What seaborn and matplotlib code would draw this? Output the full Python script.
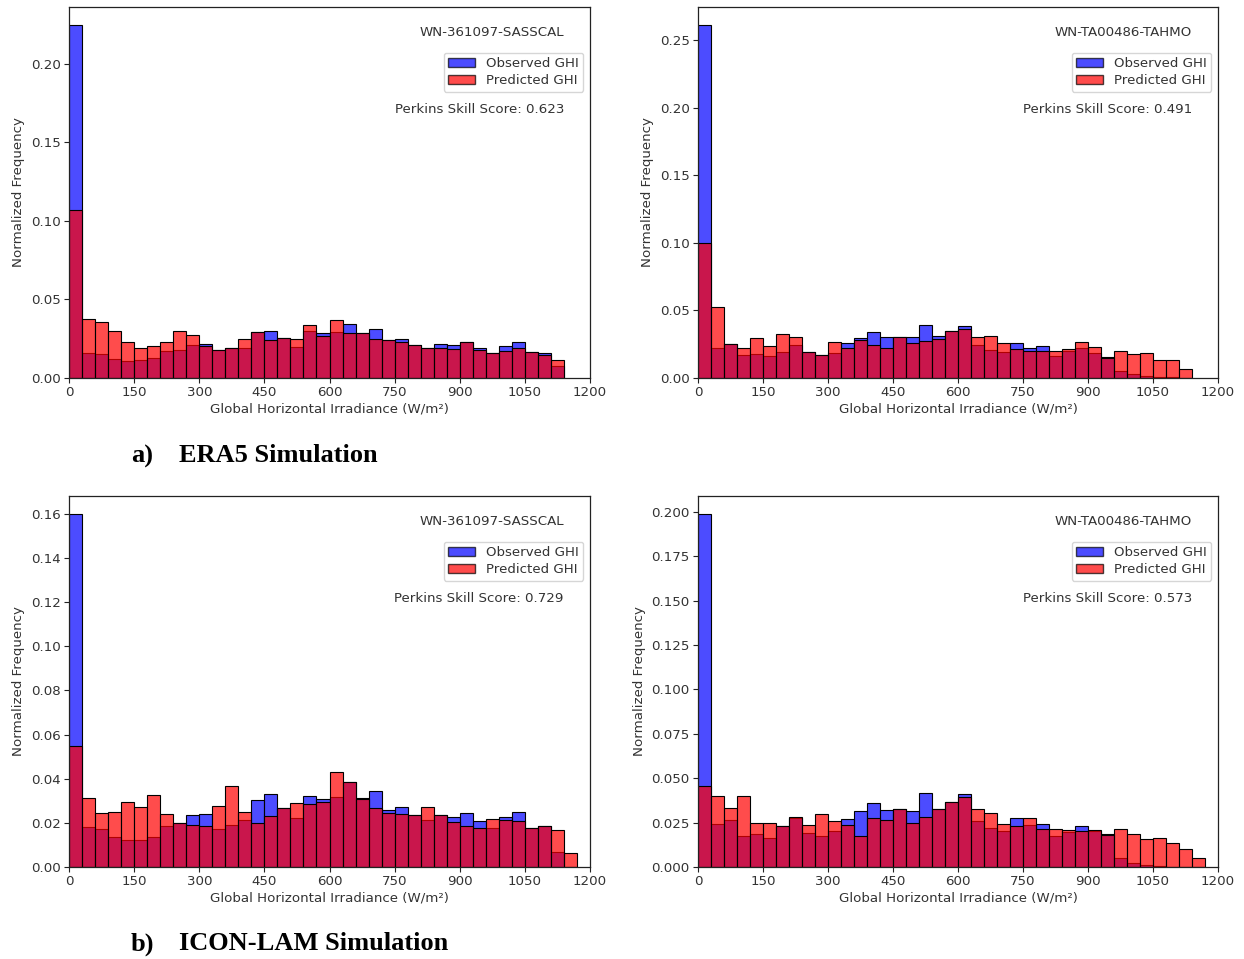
import numpy as np
import pandas as pd
import matplotlib
matplotlib.use("Agg")
import matplotlib.pyplot as plt
from matplotlib.patches import Patch
import seaborn as sns

# Histogram bin width of irradiance (W/m²)
bin_width = 30

# ERA5 – WN-361097-SASSCAL (normalized frequency per bin)
era5_sasscal_obs = [0.225, 0.016, 0.0153, 0.0119, 0.0106, 0.0114, 0.0127, 0.017, 0.018, 0.0208,
                    0.0216, 0.0178, 0.019, 0.019, 0.0295, 0.030, 0.0256, 0.0197, 0.0297, 0.0284,
                    0.0290, 0.0343, 0.0286, 0.0312, 0.0244, 0.025, 0.0212, 0.0192, 0.0218, 0.0208,
                    0.0228, 0.019, 0.0159, 0.0206, 0.0227, 0.0164, 0.0157, 0.0074]
era5_sasscal_pred = [0.107, 0.0375, 0.0356, 0.0297, 0.0227, 0.0191, 0.0206, 0.0231, 0.0297, 0.0273,
                     0.0206, 0.018, 0.019, 0.0248, 0.0295, 0.0244, 0.0256, 0.025, 0.034, 0.0265,
                     0.0367, 0.0286, 0.0286, 0.025, 0.0244, 0.0229, 0.0212, 0.019, 0.019, 0.0187,
                     0.0230, 0.0178, 0.0159, 0.017, 0.019, 0.0163, 0.0144, 0.0112]

# ERA5 – WN-TA00486-TAHMO
era5_tahmo_obs = [0.2615, 0.0224, 0.0249, 0.0168, 0.018, 0.0163, 0.0193, 0.0244, 0.019, 0.0173,
                  0.0188, 0.0256, 0.0298, 0.0337, 0.0305, 0.0307, 0.030, 0.039, 0.031, 0.0351,
                  0.0382, 0.0245, 0.021, 0.0195, 0.0257, 0.0222, 0.0235, 0.0165, 0.0198, 0.0222,
                  0.0183, 0.0158, 0.0054, 0.003, 0.0017, 0.001, 0.0005, 0.0]
era5_tahmo_pred = [0.0998, 0.0527, 0.0249, 0.0224, 0.0295, 0.0234, 0.0329, 0.030, 0.019, 0.0173,
                   0.0266, 0.0222, 0.0283, 0.0244, 0.0224, 0.0307, 0.0256, 0.0273, 0.029, 0.0351,
                   0.0364, 0.0301, 0.0309, 0.0257, 0.0215, 0.0203, 0.0203, 0.0203, 0.0215, 0.0269,
                   0.0232, 0.0146, 0.0203, 0.0175, 0.0183, 0.0136, 0.0133, 0.0067]

# ICON-LAM – WN-361097-SASSCAL
icon_sasscal_obs = [0.160, 0.0181, 0.0173, 0.0135, 0.0123, 0.0123, 0.0138, 0.0187, 0.0200, 0.0237,
                    0.0242, 0.0172, 0.0192, 0.0211, 0.0302, 0.0331, 0.0266, 0.022, 0.0321, 0.031,
                    0.0318, 0.0385, 0.0313, 0.0344, 0.0257, 0.0272, 0.0237, 0.0211, 0.0234, 0.0226,
                    0.0245, 0.0207, 0.0176, 0.0225, 0.0248, 0.0176, 0.0184, 0.007, 0.0]
icon_sasscal_pred = [0.055, 0.0313, 0.0243, 0.0249, 0.0296, 0.0272, 0.0325, 0.0239, 0.0198, 0.0192,
                     0.0187, 0.0275, 0.0369, 0.0249, 0.0199, 0.0230, 0.0266, 0.029, 0.0287, 0.0295,
                     0.043, 0.0385, 0.0306, 0.0268, 0.0245, 0.0242, 0.0237, 0.0272, 0.0234, 0.0202,
                     0.0184, 0.0176, 0.0219, 0.0214, 0.0207, 0.0176, 0.0184, 0.0169, 0.0062]

# ICON-LAM – WN-TA00486-TAHMO
icon_tahmo_obs = [0.199, 0.0244, 0.0266, 0.0172, 0.0187, 0.0163, 0.0229, 0.0278, 0.0191, 0.0176,
                  0.020, 0.027, 0.0318, 0.0361, 0.0319, 0.0329, 0.0318, 0.0418, 0.0327, 0.0367,
                  0.0412, 0.0257, 0.0219, 0.0204, 0.0276, 0.0234, 0.0244, 0.0172, 0.0195, 0.0232,
                  0.0204, 0.0185, 0.0049, 0.0025, 0.001, 0.0005, 0.0, 0.0, 0.0]
icon_tahmo_pred = [0.0455, 0.0399, 0.0333, 0.0399, 0.0248, 0.0248, 0.0229, 0.028, 0.0238, 0.030,
                   0.0257, 0.0238, 0.0176, 0.0276, 0.0266, 0.0329, 0.0248, 0.0282, 0.0327, 0.0367,
                   0.0395, 0.0327, 0.0302, 0.0244, 0.0232, 0.0274, 0.0214, 0.0214, 0.021, 0.020,
                   0.0206, 0.0182, 0.0215, 0.0187, 0.0157, 0.0166, 0.0134, 0.010, 0.0049]

stations = ["WN-361097-SASSCAL", "WN-TA00486-TAHMO",
            "WN-361097-SASSCAL", "WN-TA00486-TAHMO"]
perkins_scores = [0.623, 0.491, 0.729, 0.573]
panel_tags = ["a)", "b)"]
simulations = ["ERA5 Simulation", "ICON-LAM Simulation"]
x_ticks = [0, 150, 300, 450, 600, 750, 900, 1050, 1200]

panels = [
    (era5_sasscal_obs, era5_sasscal_pred),
    (era5_tahmo_obs, era5_tahmo_pred),
    (icon_sasscal_obs, icon_sasscal_pred),
    (icon_tahmo_obs, icon_tahmo_pred),
]

sns.set_style("ticks")
text_color = "#333333"
plt.rcParams["font.family"] = ["DejaVu Sans"]
plt.rcParams["axes.edgecolor"] = "#222222"
plt.rcParams["xtick.color"] = "#222222"
plt.rcParams["ytick.color"] = "#222222"
plt.rcParams["xtick.labelcolor"] = text_color
plt.rcParams["ytick.labelcolor"] = text_color
plt.rcParams["axes.labelcolor"] = text_color
plt.rcParams["text.color"] = text_color

W, H = 1244, 959
fig = plt.figure(figsize=(W / 100, H / 100), dpi=100)

# axes boxes in pixels: left, top, right, bottom
boxes = [(69, 7, 590, 378), (698, 7, 1218, 378),
         (69, 496, 590, 867), (698, 496, 1218, 867)]

obs_color = "blue"
pred_color = "red"
fs = 9.6

for (obs, pred), box, station, pss in zip(panels, boxes, stations, perkins_scores):
    l, t, r, b = box
    ax = fig.add_axes([l / W, 1 - b / H, (r - l) / W, (b - t) / H])
    n = len(obs)
    x_max = n * bin_width
    df = pd.DataFrame({"ghi": np.arange(n) * bin_width + bin_width / 2,
                       "obs": obs, "pred": pred})
    sns.histplot(data=df, x="ghi", weights="obs", binwidth=bin_width, binrange=(0, x_max),
                 stat="count", color=obs_color, alpha=0.7, edgecolor="black",
                 linewidth=0.8, ax=ax)
    sns.histplot(data=df, x="ghi", weights="pred", binwidth=bin_width, binrange=(0, x_max),
                 stat="count", color=pred_color, alpha=0.7, edgecolor="black",
                 linewidth=0.8, ax=ax)
    ax.set_xlim(0, 1200)
    ax.set_ylim(0, max(max(obs), max(pred)) * 1.05)
    ax.set_xticks(x_ticks)
    ax.tick_params(labelsize=fs, length=3.5, width=0.8, pad=2.5)
    ax.set_xlabel("Global Horizontal Irradiance (W/m²)", fontsize=fs, labelpad=2.5)
    ax.set_ylabel("Normalized Frequency", fontsize=fs)
    for s in ax.spines.values():
        s.set_linewidth(0.9)
    ax.text(0.95, 0.95, station, transform=ax.transAxes, ha="right", va="top", fontsize=fs)
    handles = [Patch(facecolor=obs_color, alpha=0.7, edgecolor="black", label="Observed GHI"),
               Patch(facecolor=pred_color, alpha=0.7, edgecolor="black", label="Predicted GHI")]
    ax.legend(handles=handles, loc="upper right", bbox_to_anchor=(1.0, 0.895),
              fontsize=fs, frameon=True, handlelength=2.0, borderaxespad=0.5,
              borderpad=0.35, labelspacing=0.3)
    ax.text(0.95, 0.74, f"Perkins Skill Score: {pss:.3f}", transform=ax.transAxes,
            ha="right", va="top", fontsize=fs)

# Section captions below each row
for tag, sim, y in zip(panel_tags, simulations, [456, 944]):
    fig.text(131 / W, 1 - y / H, tag, ha="left", va="center", fontsize=19,
             fontweight="bold", family="Liberation Serif", color="black")
    fig.text(179 / W, 1 - y / H, sim, ha="left", va="center", fontsize=19,
             fontweight="bold", family="Liberation Serif", color="black")

fig.savefig("out.png", dpi=100, facecolor="white")
